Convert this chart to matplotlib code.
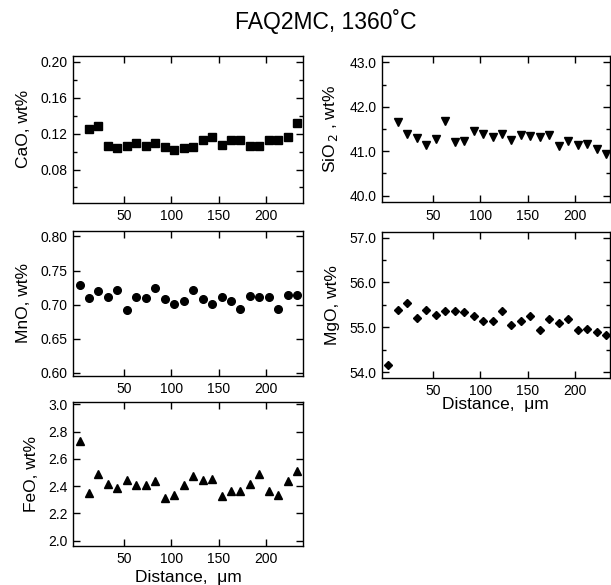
import matplotlib
matplotlib.use("Agg")
import matplotlib.pyplot as plt
from matplotlib.ticker import MultipleLocator, NullLocator

plt.rcParams["font.family"] = ["Liberation Sans", "DejaVu Sans"]

# distancia (um) de cada punto de analisis
dist = [3, 13, 23, 33, 43, 53, 63, 73, 83, 93, 103, 113,
        123, 133, 143, 153, 163, 173, 183, 193, 203, 213, 223, 233]
dist_cao = dist[1:]
dist_sio2 = dist[1:]

cao = [0.125, 0.129, 0.1065, 0.104, 0.1065, 0.110, 0.1057, 0.110, 0.105,
       0.102, 0.104, 0.105, 0.1124, 0.1165, 0.1076, 0.1124, 0.1124, 0.1065,
       0.1065, 0.113, 0.113, 0.1165, 0.132]
sio2 = [41.66, 41.38, 41.30, 41.15, 41.28, 41.68, 41.21, 41.23, 41.45,
        41.38, 41.32, 41.38, 41.26, 41.36, 41.34, 41.32, 41.36, 41.11,
        41.24, 41.15, 41.17, 41.06, 40.94]
mno = [0.7289, 0.7095, 0.7199, 0.7104, 0.7219, 0.6915, 0.7104, 0.7095,
       0.7249, 0.7085, 0.7015, 0.7055, 0.7209, 0.7075, 0.7015, 0.7114,
       0.7045, 0.694, 0.7124, 0.7114, 0.7114, 0.694, 0.7134, 0.7134]
mgo = [54.16, 55.39, 55.54, 55.21, 55.39, 55.28, 55.36, 55.37, 55.34,
       55.25, 55.15, 55.15, 55.36, 55.05, 55.15, 55.25, 54.95, 55.19,
       55.10, 55.19, 54.95, 54.96, 54.89, 54.83]
feo = [2.732, 2.347, 2.486, 2.417, 2.385, 2.447, 2.407, 2.407, 2.434,
       2.315, 2.337, 2.407, 2.471, 2.447, 2.452, 2.325, 2.367, 2.367,
       2.412, 2.491, 2.367, 2.332, 2.434, 2.514]

W, H = 611, 585
fig = plt.figure(figsize=(W / 100, H / 100), dpi=100)


def caja(left, top, right, bottom):
    return fig.add_axes([left / W, 1 - bottom / H, (right - left) / W, (bottom - top) / H])


def estilo(ax, ylim, major, minor, fmt, xlim):
    ax.set_xlim(*xlim)
    ax.set_ylim(*ylim)
    ax.set_xticks([50, 100, 150, 200])
    ax.xaxis.set_minor_locator(NullLocator())
    ax.yaxis.set_major_locator(MultipleLocator(major))
    ax.yaxis.set_minor_locator(MultipleLocator(minor) if minor else NullLocator())
    ax.yaxis.set_major_formatter(plt.FormatStrFormatter(fmt))
    ax.tick_params(which="both", direction="in", top=True, right=True,
                   labelsize=10, width=1)
    ax.tick_params(which="major", length=5)
    ax.tick_params(which="minor", length=3)
    ax.tick_params(axis="y", pad=3.5)
    ax.tick_params(axis="x", pad=4.5)
    for s in ax.spines.values():
        s.set_linewidth(1)


xl_izq = (-4.2, 239.4)
xl_der = (-3.8, 236.3)
fs_lab = 12.5

ax = caja(72.7, 55.7, 303.3, 202.5)
ax.plot(dist_cao, cao, "s", color="black", ms=5.2)
estilo(ax, (0.0433, 0.2067), 0.04, 0.02, "%.2f", xl_izq)
ax.set_ylabel("CaO, wt%", fontsize=fs_lab, labelpad=7)

ax = caja(381.7, 55.7, 609.5, 202.3)
ax.plot(dist_sio2, sio2, "v", color="black", ms=6)
estilo(ax, (39.85, 43.15), 1.0, 0.5, "%.1f", xl_der)
ax.set_ylabel("SiO$_{\\,2}$ , wt%", fontsize=fs_lab, labelpad=7)

ax = caja(72.7, 230.7, 303.3, 375.7)
ax.plot(dist, mno, "o", color="black", ms=5.5)
estilo(ax, (0.5955, 0.8085), 0.05, None, "%.2f", xl_izq)
ax.set_ylabel("MnO, wt%", fontsize=fs_lab, labelpad=7)

ax = caja(381.7, 231.7, 609.5, 377.7)
ax.plot(dist, mgo, "D", color="black", ms=4.2)
estilo(ax, (53.88, 57.13), 1.0, 0.5, "%.1f", xl_der)
ax.set_ylabel("MgO, wt%", fontsize=fs_lab, labelpad=7)
ax.set_xlabel("Distance,  \u03bcm", fontsize=fs_lab, labelpad=-1)

ax = caja(72.7, 401.7, 303.3, 546)
ax.plot(dist, feo, "^", color="black", ms=6)
estilo(ax, (1.96, 3.02), 0.2, None, "%.1f", xl_izq)
ax.set_ylabel("FeO, wt%", fontsize=fs_lab, labelpad=7)
ax.set_xlabel("Distance,  \u03bcm", fontsize=fs_lab, labelpad=3)

fig.text(326 / W, 1 - 22 / H, "FAQ2MC, 1360\u02daC", ha="center", va="center",
         fontsize=16.5)

fig.savefig("out.png", dpi=100)
